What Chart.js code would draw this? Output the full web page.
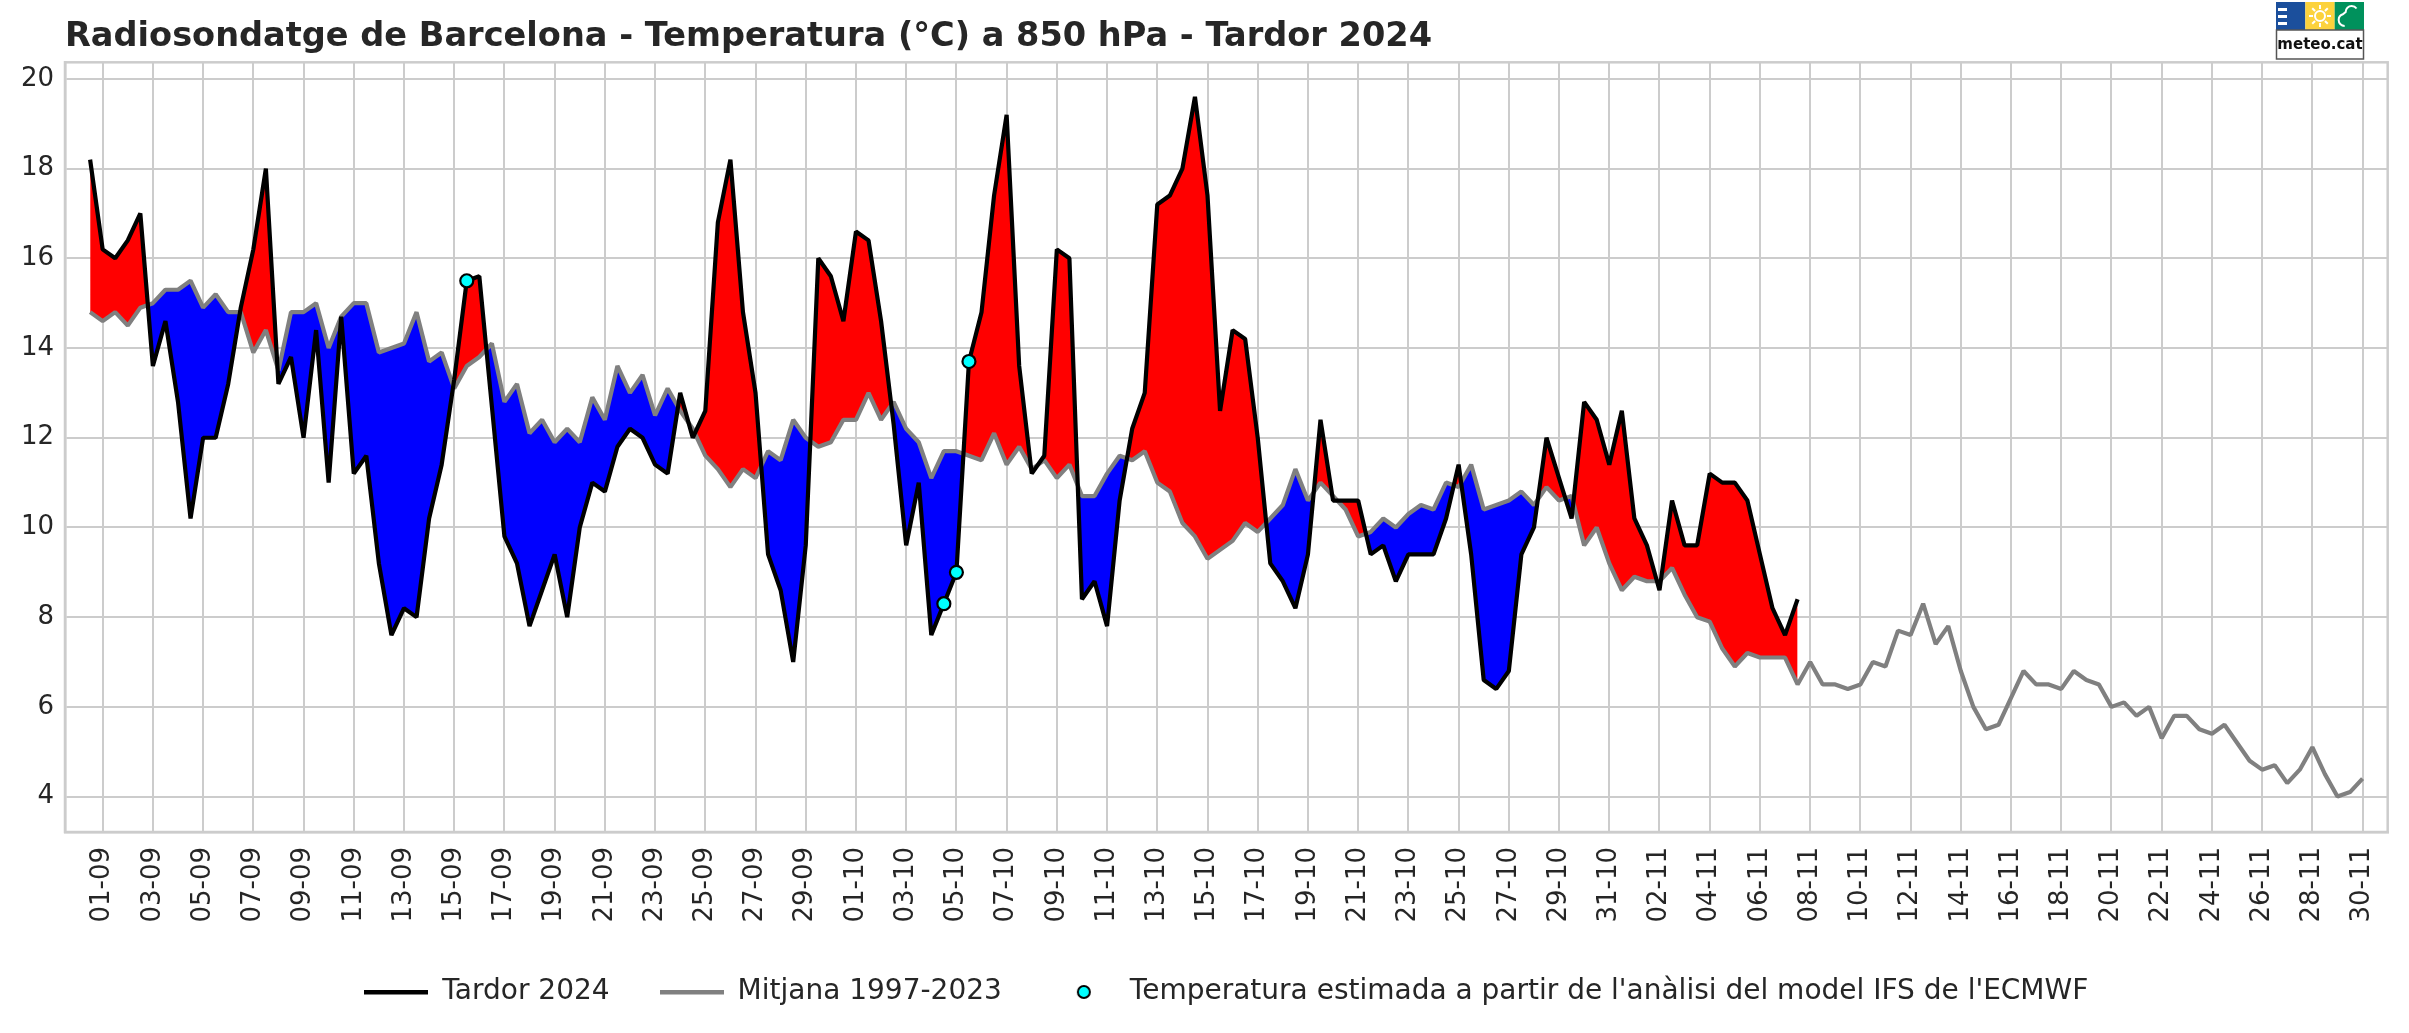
<!DOCTYPE html>
<html>
<head>
<meta charset="utf-8">
<script src="https://cdn.jsdelivr.net/npm/chart.js@4.4.1/dist/chart.umd.min.js"></script>
<style>
  html, body { margin: 0; padding: 0; background: #fff; }
  #wrap { width: 2409px; height: 1033px; }
</style>
</head>
<body>
<div id="wrap"><canvas id="myChart" width="2409" height="1033"></canvas></div>
<script>
// x tick labels, one every two days (tick i sits at day 2*i after 01-09)
const tickLabels = [
  "01-09", "03-09", "05-09", "07-09", "09-09", "11-09", "13-09", "15-09", "17-09", "19-09",
  "21-09", "23-09", "25-09", "27-09", "29-09", "01-10", "03-10", "05-10", "07-10", "09-10",
  "11-10", "13-10", "15-10", "17-10", "19-10", "21-10", "23-10", "25-10", "27-10", "29-10",
  "31-10", "02-11", "04-11", "06-11", "08-11", "10-11", "12-11", "14-11", "16-11", "18-11",
  "20-11", "22-11", "24-11", "26-11", "28-11", "30-11"
];
const yTicks = [4, 6, 8, 10, 12, 14, 16, 18, 20];

// soundings every 12 h, first one half a day before the 01-09 tick
const firstDay = -0.5;
const step = 0.5;

// Tardor 2024 (850 hPa temperature, degC)
const tardor2024 = [
  18.2, 16.2, 16.0, 16.4, 17.0, 13.6, 14.6, 12.8, 10.2, 12.0,
  12.0, 13.2, 14.9, 16.2, 18.0, 13.2, 13.8, 12.0, 14.4, 11.0,
  14.7, 11.2, 11.6, 9.2, 7.6, 8.2, 8.0, 10.2, 11.4, 13.3,
  15.5, 15.6, 12.7, 9.8, 9.2, 7.8, 8.6, 9.4, 8.0, 10.0,
  11.0, 10.8, 11.8, 12.2, 12.0, 11.4, 11.2, 13.0, 12.0, 12.6,
  16.8, 18.2, 14.8, 13.0, 9.4, 8.6, 7.0, 9.6, 16.0, 15.6,
  14.6, 16.6, 16.4, 14.6, 12.3, 9.6, 11.0, 7.6, 8.3, 9.0,
  13.7, 14.8, 17.4, 19.2, 13.6, 11.2, 11.6, 16.2, 16.0, 8.4,
  8.8, 7.8, 10.6, 12.2, 13.0, 17.2, 17.4, 18.0, 19.6, 17.4,
  12.6, 14.4, 14.2, 12.0, 9.2, 8.8, 8.2, 9.4, 12.4, 10.6,
  10.6, 10.6, 9.4, 9.6, 8.8, 9.4, 9.4, 9.4, 10.2, 11.4,
  9.4, 6.6, 6.4, 6.8, 9.4, 10.0, 12.0, 11.1, 10.2, 12.8,
  12.4, 11.4, 12.6, 10.2, 9.6, 8.6, 10.6, 9.6, 9.6, 11.2,
  11.0, 11.0, 10.6, 9.4, 8.2, 7.6, 8.4
];

// Mitjana 1997-2023
const mitjana = [
  14.8, 14.6, 14.8, 14.5, 14.9, 15.0, 15.3, 15.3, 15.5, 14.9,
  15.2, 14.8, 14.8, 13.9, 14.4, 13.5, 14.8, 14.8, 15.0, 14.0,
  14.7, 15.0, 15.0, 13.9, 14.0, 14.1, 14.8, 13.7, 13.9, 13.1,
  13.6, 13.8, 14.1, 12.8, 13.2, 12.1, 12.4, 11.9, 12.2, 11.9,
  12.9, 12.4, 13.6, 13.0, 13.4, 12.5, 13.1, 12.6, 12.2, 11.6,
  11.3, 10.9, 11.3, 11.1, 11.7, 11.5, 12.4, 12.0, 11.8, 11.9,
  12.4, 12.4, 13.0, 12.4, 12.8, 12.2, 11.9, 11.1, 11.7, 11.7,
  11.6, 11.5, 12.1, 11.4, 11.8, 11.3, 11.5, 11.1, 11.4, 10.7,
  10.7, 11.2, 11.6, 11.5, 11.7, 11.0, 10.8, 10.1, 9.8, 9.3,
  9.5, 9.7, 10.1, 9.9, 10.2, 10.5, 11.3, 10.6, 11.0, 10.7,
  10.4, 9.8, 9.9, 10.2, 10.0, 10.3, 10.5, 10.4, 11.0, 10.9,
  11.4, 10.4, 10.5, 10.6, 10.8, 10.5, 10.9, 10.6, 10.7, 9.6,
  10.0, 9.2, 8.6, 8.9, 8.8, 8.8, 9.1, 8.5, 8.0, 7.9,
  7.3, 6.9, 7.2, 7.1, 7.1, 7.1, 6.5, 7.0, 6.5, 6.5,
  6.4, 6.5, 7.0, 6.9, 7.7, 7.6, 8.3, 7.4, 7.8, 6.8,
  6.0, 5.5, 5.6, 6.2, 6.8, 6.5, 6.5, 6.4, 6.8, 6.6,
  6.5, 6.0, 6.1, 5.8, 6.0, 5.3, 5.8, 5.8, 5.5, 5.4,
  5.6, 5.2, 4.8, 4.6, 4.7, 4.3, 4.6, 5.1, 4.5, 4.0,
  4.1, 4.4
];

// soundings replaced by the ECMWF IFS analysis
const ifsIndex = [30, 68, 69, 70];
const ifsValue = [15.5, 8.3, 9.0, 13.7];

const FONT = "'DejaVu Sans', sans-serif";
const TEXT = "#262626";
const GRID = "#cccccc";

const toPoints = (vals) => vals.map((v, i) => ({ x: firstDay + i * step, y: v }));

// small canvases used as legend handles
const legendMark = (kind) => {
  const c = document.createElement("canvas");
  c.width = 64;
  c.height = 16;
  const g = c.getContext("2d");
  if (kind === "dot") {
    g.beginPath();
    g.arc(32, 8, 6, 0, Math.PI * 2);
    g.fillStyle = "#00ffff";
    g.fill();
    g.lineWidth = 2;
    g.strokeStyle = "#000";
    g.stroke();
  } else {
    g.fillStyle = kind;
    g.fillRect(0, 6, 64, 4.5);
  }
  return c;
};

const framePlugin = {
  id: "frame",
  beforeDatasetsDraw(chart) {
    const a = chart.chartArea;
    const ctx = chart.ctx;
    ctx.save();
    ctx.strokeStyle = GRID;
    ctx.lineWidth = 2.5;
    ctx.strokeRect(a.left, a.top, a.right - a.left, a.bottom - a.top);
    ctx.restore();
  },
};

const logoPlugin = {
  id: "logo",
  afterDraw(chart) {
    const ctx = chart.ctx;
    const x = 2276, y = 2, w = 88, band = 28, h = 57;
    const sq = w / 3;
    ctx.save();
    ctx.fillStyle = "#fff";
    ctx.fillRect(x, y, w, h);
    ctx.fillStyle = "#1b4f9c";
    ctx.fillRect(x, y, sq, band);
    ctx.fillStyle = "#fcd23c";
    ctx.fillRect(x + sq, y, sq, band);
    ctx.fillStyle = "#00915c";
    ctx.fillRect(x + 2 * sq, y, sq, band);
    // stripes
    ctx.fillStyle = "#fff";
    for (let k = 0; k < 3; k++) ctx.fillRect(x + 2, y + 6 + k * 7, 9, 3);
    // sun
    const cx = x + sq * 1.5, cy = y + band / 2;
    ctx.strokeStyle = "#fff";
    ctx.lineWidth = 2;
    ctx.beginPath();
    ctx.arc(cx, cy, 5, 0, Math.PI * 2);
    ctx.stroke();
    for (let k = 0; k < 8; k++) {
      const an = (k * Math.PI) / 4;
      ctx.beginPath();
      ctx.moveTo(cx + Math.cos(an) * 7, cy + Math.sin(an) * 7);
      ctx.lineTo(cx + Math.cos(an) * 11, cy + Math.sin(an) * 11);
      ctx.stroke();
    }
    // cloud
    const gx = x + 2 * sq;
    ctx.beginPath();
    ctx.moveTo(gx + 10, y + 24);
    ctx.arc(gx + 10, y + 18, 6, Math.PI / 2, Math.PI * 1.4);
    ctx.arc(gx + 17, y + 10, 6, Math.PI, Math.PI * 1.8);
    ctx.stroke();
    // text box
    ctx.strokeStyle = "#555";
    ctx.lineWidth = 1.5;
    ctx.strokeRect(x + 0.5, y + band, w - 1, h - band);
    ctx.fillStyle = "#111";
    ctx.font = "bold 15px " + FONT;
    ctx.textAlign = "center";
    ctx.textBaseline = "middle";
    ctx.fillText("meteo.cat", x + w / 2, y + band + 15);
    ctx.restore();
  },
};

const ctx = document.getElementById("myChart").getContext("2d");
const myChart = new Chart(ctx, {
  type: "line",
  data: {
    datasets: [
      {
        label: "Tardor 2024",
        data: toPoints(tardor2024),
        borderColor: "#000000",
        borderWidth: 4.2,
        pointRadius: 0,
        tension: 0,
        borderJoinStyle: "bevel",
        fill: { target: 1, above: "#ff0000", below: "#0000ff" },
        order: 1,
      },
      {
        label: "Mitjana 1997-2023",
        data: toPoints(mitjana),
        borderColor: "#808080",
        borderWidth: 4.2,
        pointRadius: 0,
        tension: 0,
        borderJoinStyle: "bevel",
        fill: false,
        order: 2,
      },
      {
        label: "Temperatura estimada a partir de l'anàlisi del model IFS de l'ECMWF",
        data: ifsIndex.map((idx, k) => ({ x: firstDay + idx * step, y: ifsValue[k] })),
        showLine: false,
        pointRadius: 6.5,
        pointBorderWidth: 2.2,
        pointBackgroundColor: "#00ffff",
        pointBorderColor: "#000000",
        fill: false,
        order: 0,
      },
    ],
  },
  options: {
    responsive: false,
    animation: false,
    devicePixelRatio: 1,
    layout: { padding: { left: 0, right: 19, top: 0, bottom: 17 } },
    scales: {
      x: {
        type: "linear",
        min: -1.5,
        max: 91,
        afterBuildTicks: (s) => {
          s.ticks = tickLabels.map((t, i) => ({ value: i * 2 }));
        },
        afterFit: (s) => {
          s.height = 1033 - 17 - (28 + 50 + 10) - 832;
        },
        ticks: {
          autoSkip: false,
          minRotation: 90,
          maxRotation: 90,
          padding: 15,
          color: TEXT,
          font: { family: FONT, size: 26 },
          callback: (v, i) => tickLabels[i],
        },
        grid: { color: GRID, lineWidth: 2, drawTicks: false },
        border: { color: GRID, width: 2.5 },
      },
      y: {
        min: 3.21,
        max: 20.37,
        afterBuildTicks: (s) => {
          s.ticks = yTicks.map((v) => ({ value: v }));
        },
        afterFit: (s) => {
          s.width = 65;
        },
        ticks: {
          padding: 11,
          color: TEXT,
          font: { family: FONT, size: 26 },
          callback: (v) => String(v),
        },
        grid: { color: GRID, lineWidth: 2, drawTicks: false },
        border: { color: GRID, width: 2.5 },
      },
    },
    plugins: {
      filler: { drawTime: "beforeDatasetsDraw" },
      tooltip: { enabled: false },
      title: {
        display: true,
        text: "Radiosondatge de Barcelona - Temperatura (°C) a 850 hPa - Tardor 2024",
        align: "start",
        fullSize: false,
        color: TEXT,
        font: { family: FONT, size: 33.6, weight: "bold", lineHeight: 1.2 },
        padding: { top: 17, bottom: 5 },
      },
      legend: {
        position: "bottom",
        fullSize: false,
        labels: {
          usePointStyle: true,
          pointStyleWidth: 64,
          padding: 50,
          color: TEXT,
          font: { family: FONT, size: 28 },
          generateLabels: (chart) => {
            const ds = chart.data.datasets;
            const marks = [legendMark("#000000"), legendMark("#808080"), legendMark("dot")];
            return ds.map((d, i) => ({
              text: d.label,
              pointStyle: marks[i],
              fillStyle: "transparent",
              strokeStyle: "transparent",
              lineWidth: 0,
              hidden: false,
              datasetIndex: i,
              fontColor: TEXT,
            }));
          },
        },
      },
    },
  },
  plugins: [framePlugin, logoPlugin],
});
</script>
</body>
</html>
